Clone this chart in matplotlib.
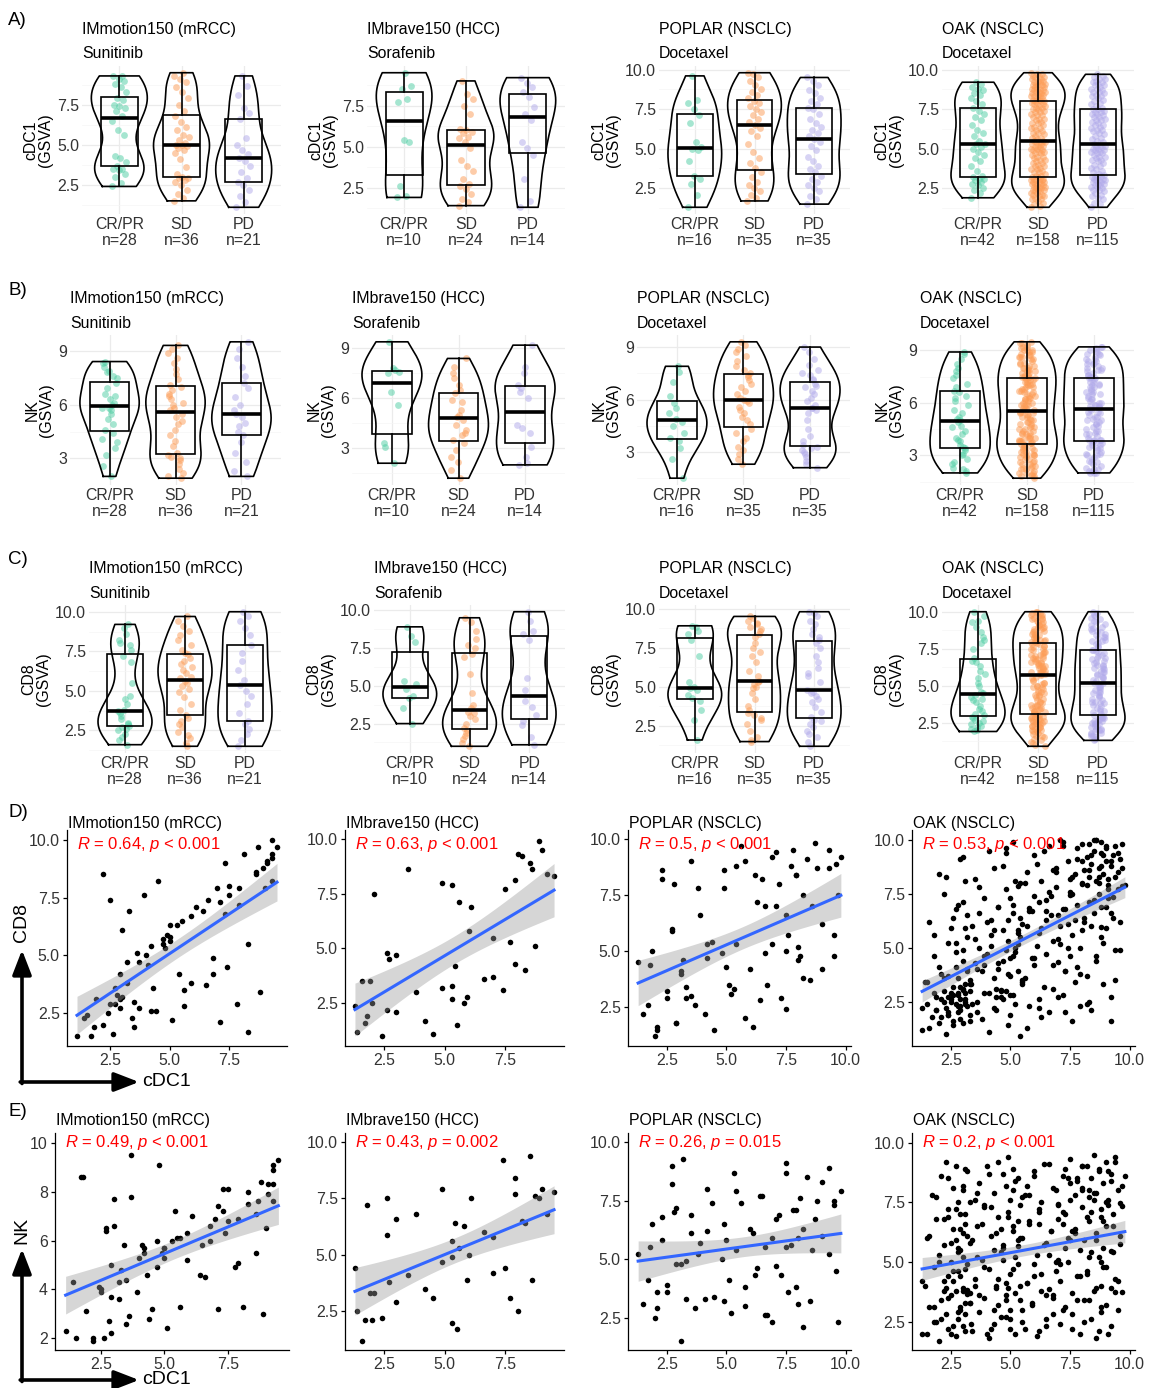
import numpy as np
import matplotlib
matplotlib.use('Agg')
import matplotlib.pyplot as plt
from matplotlib.patches import Rectangle
from matplotlib.ticker import MultipleLocator, FormatStrFormatter

plt.rcParams['font.family'] = ['Liberation Sans', 'DejaVu Sans']
plt.rcParams['font.size'] = 11.4
plt.rcParams['mathtext.fontset'] = 'custom'
plt.rcParams['mathtext.rm'] = 'Liberation Sans'
plt.rcParams['mathtext.it'] = 'Liberation Sans:italic'

W, H = 1151, 1388

# LABELS
studies = ['IMmotion150 (mRCC)', 'IMbrave150 (HCC)', 'POPLAR (NSCLC)', 'OAK (NSCLC)']
drugs = ['Sunitinib', 'Sorafenib', 'Docetaxel', 'Docetaxel']
groups = ['CR/PR', 'SD', 'PD']
cd8_r = ['0.64', '0.63', '0.5', '0.53']
cd8_p = ['< 0.001', '< 0.001', '< 0.001', '< 0.001']
nk_r = ['0.49', '0.43', '0.26', '0.2']
nk_p = ['< 0.001', '= 0.002', '= 0.015', '< 0.001']

# GSVA SCORES PER PATIENT, SPLIT BY RESPONSE (CR/PR, SD, PD) - SAME PATIENT ORDER IN EACH SIGNATURE
mrcc_cdc1 = [
    [2.4, 2.6, 3.0, 3.2, 3.4, 3.5, 3.5, 3.7, 3.9, 4.2, 4.3, 5.6, 5.9, 6.5, 6.8, 7.1, 7.3, 7.4, 7.5, 7.8, 7.9, 8.3, 8.6, 8.8, 9.0, 9.1, 9.3, 9.3],
    [1.5, 1.7, 1.9, 2.2, 2.5, 2.7, 2.8, 2.9, 2.9, 3.0, 3.2, 3.6, 4.1, 4.5, 4.7, 4.8, 4.9, 5.0, 5.0, 5.1, 5.3, 5.5, 5.6, 5.9, 6.1, 6.4, 6.8, 7.1, 7.5, 7.9, 8.3, 8.6, 8.9, 9.1, 9.3, 9.5],
    [1.1, 1.4, 1.8, 2.2, 2.5, 2.7, 2.9, 3.3, 3.7, 4.0, 4.2, 4.4, 4.7, 5.0, 5.4, 6.6, 7.0, 7.3, 8.1, 8.7, 9.3],
]
mrcc_cd8 = [
    [2.5, 1.6, 3.2, 4.7, 2.3, 1.9, 3.0, 2.7, 7.6, 2.6, 3.6, 2.8, 3.8, 3.7, 4.2, 2.1, 6.8, 4.5, 8.0, 2.9, 7.2, 5.5, 8.6, 3.4, 7.9, 9.0, 8.2, 9.2],
    [2.4, 1.5, 3.1, 2.0, 7.4, 2.9, 3.3, 2.7, 4.2, 6.1, 3.8, 5.1, 4.6, 8.2, 5.5, 5.3, 5.9, 5.6, 5.8, 2.2, 6.3, 6.5, 3.5, 6.7, 7.1, 6.9, 4.9, 7.3, 7.6, 7.9, 1.7, 8.5, 8.8, 9.1, 9.4, 9.7],
    [1.5, 2.3, 1.9, 8.5, 2.9, 3.6, 3.1, 6.9, 4.7, 5.0, 5.4, 2.6, 5.7, 6.3, 4.2, 7.4, 7.9, 9.0, 9.4, 9.7, 10.0],
]
mrcc_nk = [
    [4.1, 2.0, 6.6, 3.6, 5.8, 2.6, 4.4, 7.8, 3.9, 5.7, 4.6, 6.1, 5.2, 5.8, 6.0, 3.2, 7.2, 6.3, 8.1, 4.9, 6.9, 7.5, 5.5, 8.4, 6.5, 7.9, 8.3, 7.6],
    [2.0, 8.6, 3.1, 1.9, 4.0, 6.5, 2.7, 3.7, 2.2, 7.7, 4.3, 2.9, 5.8, 3.2, 4.9, 9.1, 5.5, 5.3, 5.7, 2.4, 6.0, 6.1, 3.3, 6.3, 7.0, 4.6, 6.6, 7.4, 6.8, 5.1, 8.0, 7.1, 3.0, 8.3, 8.9, 9.3],
    [2.3, 4.3, 8.6, 2.0, 3.9, 6.4, 5.0, 4.8, 9.5, 5.3, 5.5, 2.8, 6.0, 5.7, 7.2, 4.5, 6.9, 8.1, 3.3, 7.6, 9.1],
]

hcc_cdc1 = [
    [1.9, 2.0, 2.6, 5.3, 5.4, 7.7, 7.9, 8.5, 8.7, 9.5],
    [1.4, 1.6, 1.8, 2.1, 2.4, 2.6, 2.7, 3.0, 3.5, 3.8, 4.2, 4.9, 5.3, 5.5, 5.6, 5.8, 5.9, 6.0, 6.1, 7.0, 7.5, 7.9, 8.2, 9.0],
    [1.3, 1.7, 3.0, 4.5, 4.9, 5.3, 6.6, 7.0, 7.4, 8.0, 8.3, 8.6, 8.9, 9.2],
]
hcc_cd8 = [
    [3.5, 2.5, 4.8, 7.9, 4.2, 5.3, 4.3, 8.9, 5.1, 8.3],
    [1.2, 3.5, 1.9, 7.5, 1.0, 2.2, 4.5, 2.1, 8.6, 3.0, 1.7, 3.2, 3.3, 1.5, 7.1, 2.5, 2.8, 5.8, 6.9, 3.7, 7.7, 8.1, 9.2, 9.5],
    [2.4, 1.6, 4.7, 1.1, 8.0, 2.7, 3.6, 5.5, 3.1, 9.3, 4.0, 8.6, 9.9, 8.4],
]
hcc_nk = [
    [3.3, 2.1, 7.5, 5.6, 6.4, 3.1, 7.7, 9.4, 7.6, 7.8],
    [2.5, 1.2, 7.2, 3.3, 2.2, 5.9, 3.8, 2.9, 4.1, 6.8, 3.5, 4.7, 4.9, 1.7, 5.3, 6.3, 3.9, 5.0, 7.5, 5.8, 4.4, 8.4, 6.5, 7.9],
    [4.4, 2.1, 6.6, 3.1, 7.9, 2.0, 6.0, 4.2, 9.2, 2.5, 6.4, 3.9, 7.5, 6.8],
]

poplar_cdc1 = [
    [1.3, 2.1, 2.8, 3.1, 3.3, 4.2, 4.9, 5.0, 5.1, 5.4, 6.6, 7.1, 7.5, 7.9, 8.1, 9.6],
    [1.7, 1.9, 2.1, 2.3, 2.5, 2.7, 2.9, 3.2, 3.5, 3.8, 4.1, 4.4, 4.8, 5.3, 5.8, 6.1, 6.3, 6.5, 6.7, 6.9, 7.1, 7.3, 7.5, 7.7, 7.9, 8.0, 8.2, 8.4, 8.6, 8.8, 9.0, 9.3, 9.5, 9.7, 9.8],
    [1.5, 1.8, 2.0, 2.3, 2.5, 2.7, 2.9, 3.1, 3.3, 3.5, 3.7, 3.9, 4.2, 4.5, 4.9, 5.2, 5.4, 5.6, 5.8, 6.0, 6.2, 6.4, 6.6, 6.9, 7.2, 7.5, 7.6, 7.8, 8.0, 8.2, 8.5, 8.7, 9.0, 9.3, 9.5],
]
poplar_cd8 = [
    [4.5, 1.6, 8.0, 4.1, 2.9, 5.3, 8.6, 4.3, 3.5, 8.8, 4.9, 7.0, 5.0, 8.4, 4.8, 8.9],
    [2.6, 5.0, 1.5, 8.6, 3.2, 6.0, 1.8, 4.6, 3.0, 7.8, 2.2, 5.4,
     4.9, 3.3, 9.0, 1.6, 7.2, 8.2, 3.5, 5.3, 9.4, 2.9, 6.6, 8.8,
     8.4, 5.2, 3.8, 9.1, 7.0, 8.7, 4.2, 9.5, 5.7, 7.5, 9.2],
    [2.2, 4.4, 1.2, 8.2, 2.9, 5.9, 1.8, 4.0, 3.4, 9.0, 2.6, 6.6,
     4.7, 1.5, 7.8, 3.1, 5.3, 9.7, 2.0, 4.2, 8.4, 2.8, 7.0, 9.2,
     8.0, 2.4, 5.7, 9.5, 4.6, 7.5, 3.7, 9.8, 6.2, 8.7, 4.8],
]
poplar_nk = [
    [5.2, 3.6, 7.0, 1.5, 4.9, 6.2, 3.2, 5.8, 4.1, 7.9, 2.6, 4.7, 5.5, 3.8, 7.6, 4.5],
    [4.1, 6.5, 2.9, 5.8, 3.6, 8.2, 4.8, 9.3, 6.9, 5.2, 3.3, 7.4,
     5.0, 8.7, 3.8, 6.1, 4.6, 7.7, 2.6, 5.9, 6.7, 4.3, 9.1, 5.6,
     7.1, 3.1, 6.3, 8.5, 5.4, 7.5, 6.0, 8.9, 7.3, 2.3, 7.9],
    [3.1, 5.5, 2.5, 6.8, 3.9, 9.0, 7.2, 4.8, 3.3, 6.1, 2.9, 5.7,
     8.0, 3.4, 6.5, 2.7, 5.4, 7.4, 3.0, 6.3, 4.3, 7.7, 5.5, 2.3,
     6.9, 8.7, 3.6, 7.1, 5.9, 2.1, 3.2, 6.7, 8.3, 5.2, 7.5],
]

oak_cdc1 = [
    [1.9, 2.2, 2.4, 2.5, 2.7, 2.8, 2.9, 3.0, 3.1, 3.1, 3.2, 3.3, 3.6, 3.9, 4.2, 4.4, 4.6, 4.8, 5.0, 5.1, 5.3,
     5.3, 5.5, 5.8, 6.0, 6.2, 6.5, 6.8, 7.0, 7.2, 7.4, 7.6, 7.8, 8.0, 8.2, 8.4, 8.5, 8.7, 8.8, 8.9, 9.1, 9.2],
    [1.3, 1.4, 1.5, 1.6, 1.7, 1.8, 1.8, 1.9, 2.0, 2.0, 2.1, 2.1, 2.2, 2.2, 2.3, 2.3, 2.4, 2.4, 2.4, 2.5,
     2.5, 2.6, 2.6, 2.6, 2.7, 2.7, 2.8, 2.8, 2.8, 2.9, 2.9, 2.9, 3.0, 3.0, 3.0, 3.1, 3.1, 3.1, 3.2, 3.2,
     3.3, 3.3, 3.4, 3.5, 3.5, 3.6, 3.7, 3.7, 3.8, 3.9, 3.9, 4.0, 4.1, 4.1, 4.2, 4.3, 4.3, 4.4, 4.5, 4.5,
     4.6, 4.7, 4.7, 4.8, 4.8, 4.9, 4.9, 5.0, 5.0, 5.1, 5.1, 5.2, 5.2, 5.3, 5.3, 5.4, 5.4, 5.4, 5.5,
     5.5, 5.6, 5.7, 5.7, 5.8, 5.9, 6.0, 6.0, 6.1, 6.2, 6.3, 6.3, 6.4, 6.5, 6.6, 6.6, 6.7, 6.8, 6.9, 6.9,
     7.0, 7.1, 7.1, 7.2, 7.3, 7.3, 7.4, 7.5, 7.5, 7.6, 7.6, 7.7, 7.7, 7.8, 7.8, 7.9, 7.9, 8.0, 8.0,
     8.0, 8.1, 8.1, 8.2, 8.2, 8.3, 8.3, 8.3, 8.4, 8.4, 8.5, 8.5, 8.6, 8.6, 8.6, 8.7, 8.7, 8.8, 8.8, 8.8,
     8.9, 8.9, 9.0, 9.0, 9.0, 9.1, 9.1, 9.2, 9.2, 9.3, 9.3, 9.4, 9.4, 9.5, 9.5, 9.6, 9.6, 9.7, 9.7, 9.8],
    [1.3, 1.5, 1.6, 1.8, 1.9, 2.0, 2.1, 2.2, 2.3, 2.4, 2.4, 2.5, 2.6, 2.6, 2.7, 2.7, 2.8, 2.8, 2.9, 2.9,
     3.0, 3.0, 3.0, 3.1, 3.1, 3.2, 3.2, 3.3, 3.3,
     3.35, 3.4, 3.5, 3.6, 3.7, 3.8, 3.9, 4.0, 4.1, 4.2, 4.3, 4.3, 4.4, 4.5, 4.5, 4.6, 4.7, 4.7, 4.8, 4.8,
     4.9, 4.9, 5.0, 5.0, 5.1, 5.1, 5.2, 5.2,
     5.3,
     5.4, 5.5, 5.6, 5.7, 5.8, 5.9, 6.0, 6.1, 6.2, 6.2, 6.3, 6.4, 6.5, 6.5, 6.6, 6.7, 6.8, 6.8, 6.9, 7.0,
     7.0, 7.1, 7.2, 7.2, 7.3, 7.3, 7.4, 7.5,
     7.5, 7.6, 7.7, 7.8, 7.9, 8.0, 8.1, 8.2, 8.3, 8.3, 8.4, 8.5, 8.6, 8.6, 8.7, 8.8, 8.8, 8.9, 9.0, 9.0,
     9.1, 9.2, 9.2, 9.3, 9.4, 9.4, 9.5, 9.6, 9.7],
]
oak_cd8 = [
    [2.1, 3.6, 1.9, 2.6, 5.2, 2.9, 2.3, 3.1, 8.1, 2.5, 4.0,
     3.3, 2.0, 4.2, 6.3, 2.7, 3.0, 9.4, 2.8, 4.6, 3.9,
     5.8, 3.4, 6.85, 4.5, 2.2, 6.7, 8.6, 4.35, 9.7, 5.0,
     7.5, 4.1, 9.0, 2.4, 6.0, 10.0, 8.3, 5.5, 9.3, 7.9, 6.6],
    [1.2, 3.4, 2.4, 6.2, 1.8, 2.9, 4.6, 2.1, 1.5, 8.4, 2.6, 3.8, 3.0, 7.5, 2.2, 1.0, 5.2, 2.7, 1.9, 5.9,
     2.5, 3.2, 2.8, 1.4, 4.1, 6.8, 2.3, 2.0, 3.6, 2.6, 9.1, 1.7, 4.9, 3.05, 7.1, 2.4, 3.3, 2.9, 6.5, 5.5,
     3.5, 1.6, 6.0, 4.3, 8.2, 2.5, 5.0, 6.6, 3.9, 2.9, 7.3, 4.7, 1.1, 9.5, 5.6, 5.8, 2.2, 3.1, 6.9, 4.0,
     2.7, 8.8, 4.4, 7.7, 3.0, 5.3, 6.3, 1.9, 3.7, 9.9, 7.0, 4.8, 2.4, 7.85, 5.7, 8.0, 0.9, 6.4, 3.3,
     6.1, 3.6, 8.5, 1.3, 6.7, 4.5, 9.3, 7.4, 5.1, 2.6, 5.9, 8.1, 3.2, 7.2, 9.7, 2.0, 6.5, 4.2, 8.7, 7.8,
     5.4, 6.0, 10.0, 2.8, 3.9, 6.8, 9.0, 4.6, 7.6, 1.6, 8.3, 6.3, 3.4, 9.6, 7.0, 5.0, 2.3, 5.8, 7.95,
     8.0, 6.2, 8.6, 9.2, 3.7, 9.8, 7.1, 8.3, 8.9, 2.1, 9.5, 6.6, 10.0, 8.1, 4.4, 8.7, 7.5, 9.4, 9.9, 5.95,
     8.4, 5.2, 9.0, 6.9, 9.6, 8.2, 7.3, 2.7, 8.8, 9.3, 6.4, 3.5, 9.7, 8.5, 7.7, 9.1, 4.9, 9.8, 7.88, 7.92],
    [2.2, 3.4, 1.3, 5.6, 2.7, 4.1, 1.8, 2.5, 8.3, 2.0, 3.7, 2.9, 6.4, 1.6, 4.8, 2.4, 2.8, 7.0, 3.2, 2.1,
     1.5, 9.2, 4.4, 2.6, 5.9, 2.3, 3.9, 2.98, 1.9,
     3.3, 2.4, 5.4, 4.0, 7.8, 1.7, 4.6, 6.2, 2.9, 5.1, 8.7, 3.6, 2.1, 6.9, 4.3, 3.02, 2.6, 5.8, 9.6, 4.9,
     1.4, 3.8, 7.3, 4.5, 2.8, 6.6, 8.1, 5.0,
     5.18,
     5.5, 3.5, 8.0, 6.0, 2.3, 6.7, 4.2, 8.9, 7.1, 5.7, 1.8, 9.5, 4.7, 6.3, 7.6, 7.4, 3.1, 5.3, 8.5, 2.7,
     6.5, 5.15, 9.9, 6.8, 2.0, 3.9, 6.1, 8.2,
     7.42, 5.6, 8.4, 9.1, 3.8, 9.8, 6.4, 7.9, 2.5, 8.6, 9.3, 7.2, 4.6, 10.0, 8.0, 6.9, 8.8, 3.3, 9.7, 5.9,
     7.7, 1.6, 9.0, 7.35, 8.3, 4.9, 9.4, 6.2, 8.7],
]
oak_nk = [
    [2.5, 4.2, 6.9, 2.0, 3.8, 5.6, 3.1, 8.2, 2.8, 4.7, 6.1,
     3.3, 5.2, 7.4, 2.2, 4.0, 6.4, 3.6, 2.6, 8.9, 4.9,
     5.9, 3.0, 7.8, 4.4, 6.6, 2.3, 3.5, 5.1, 7.1, 8.5,
     6.3, 3.4, 8.0, 4.6, 5.4, 7.6, 2.1, 5.0, 6.7, 8.8, 3.9],
    [2.0, 4.0, 6.0, 3.1, 7.8, 4.8, 2.5, 6.8, 1.7, 5.3, 8.6, 3.4, 5.7, 3.8, 2.8, 9.2, 4.4, 7.2, 2.2, 5.0,
     3.6, 6.4, 8.1, 4.2, 1.9, 5.9, 2.6, 4.6, 7.5, 3.0, 7.0, 5.5, 2.3, 6.2, 3.9, 8.9, 3.3, 6.6, 4.9, 3.65,
     3.7, 5.8, 2.1, 7.6, 4.3, 6.5, 2.9, 8.3, 5.1, 3.5, 7.3, 9.0, 1.8, 4.7, 6.1, 2.4, 7.9, 3.9, 6.9, 3.2,
     5.4, 8.7, 5.6, 2.7, 4.1, 9.4, 7.1, 3.0, 4.5, 6.3, 8.0, 2.0, 5.2, 6.7, 8.5, 3.4, 4.0, 7.4, 7.7,
     6.0, 2.2, 8.2, 4.1, 6.6, 3.3, 4.9, 8.8, 1.9, 7.2, 3.8, 7.5, 5.7, 2.6, 5.3, 9.1, 6.3, 3.6, 4.6, 8.0,
     6.8, 2.4, 4.2, 8.6, 7.0, 3.1, 5.0, 9.3, 5.9, 3.7, 2.8, 7.8, 6.4, 4.4, 8.4, 2.0, 5.5, 7.3, 9.0,
     8.1, 5.9, 2.5, 9.0, 4.5, 6.7, 7.7, 3.4, 8.5, 7.1, 3.8, 9.48, 6.2, 1.8, 7.9, 5.2, 8.9, 6.9, 2.9, 4.0,
     8.3, 5.6, 9.2, 3.2, 4.8, 7.6, 7.4, 8.7, 2.3, 5.4, 6.5, 9.4, 4.3, 8.0, 3.0, 6.1, 7.45, 3.75, 7.35, 8.6],
    [4.2, 2.0, 6.1, 3.1, 7.7, 5.0, 2.6, 6.8, 3.9, 8.5, 3.5, 5.8, 4.6, 2.3, 9.0, 7.2, 5.4, 2.9, 6.4, 4.4,
     3.78, 8.0, 5.2, 2.1, 7.0, 3.82, 8.8, 3.3, 7.5,
     2.4, 5.9, 4.0, 7.9, 3.6, 6.6, 4.8, 2.0, 8.7, 7.3, 5.5, 3.0, 6.2, 9.19, 4.3, 2.7, 5.7, 5.1, 8.2, 3.4,
     6.9, 3.9, 2.2, 7.6, 4.7, 6.5, 3.7, 8.4,
     5.67,
     6.0, 2.5, 7.8, 4.1, 6.7, 3.2, 8.6, 5.3, 7.1, 2.1, 4.5, 9.1, 5.8, 3.6, 3.85, 6.3, 8.1, 2.8, 5.0, 7.4,
     7.44, 4.9, 6.6, 3.0, 8.9, 5.6, 6.0, 8.3,
     7.6, 2.2, 6.2, 8.5, 4.4, 9.0, 3.4, 6.9, 8.0, 5.2, 2.6, 7.9, 5.9, 3.9, 8.8, 7.2, 3.1, 4.8, 7.5, 6.5,
     2.0, 8.4, 5.45, 7.0, 9.19, 3.75, 4.2, 5.75, 8.2],
]

cdc1 = [mrcc_cdc1, hcc_cdc1, poplar_cdc1, oak_cdc1]
cd8 = [mrcc_cd8, hcc_cd8, poplar_cd8, oak_cd8]
nk = [mrcc_nk, hcc_nk, poplar_nk, oak_nk]

colors = ['#4ccda2', '#fc9b54', '#b0a9ea']

fig = plt.figure(figsize=(W / 100, H / 100), dpi=100)
ov = fig.add_axes([0, 0, 1, 1])
ov.set_xlim(0, W)
ov.set_ylim(H, 0)
ov.axis('off')
ov.set_zorder(10)


def px_axes(l, t, r, b):
    return fig.add_axes([l / W, 1 - b / H, (r - l) / W, (b - t) / H])


def kde(v, grid):
    n = len(v)
    iqr = np.percentile(v, 75) - np.percentile(v, 25)
    bw = 0.9 * min(v.std(ddof=1), iqr / 1.34) * n ** -0.2
    return np.exp(-0.5 * ((grid[:, None] - v[None, :]) / bw) ** 2).sum(1)


def violin_panel(ax, data, ylab, step, fmt):
    allv = np.concatenate([np.asarray(v, float) for v in data])
    pad = 0.05 * (allv.max() - allv.min())
    ax.set_ylim(allv.min() - pad, allv.max() + pad)
    ax.set_xlim(0.4, 3.6)
    for i, v in enumerate(data):
        v = np.asarray(v, float)
        x0 = i + 1
        jit = ((np.arange(len(v)) * 0.618034) % 1.0 - 0.5) * 0.24
        ax.scatter(x0 + jit, v, s=24, color=colors[i], alpha=0.5, linewidths=0, zorder=2)
        yy = np.linspace(v.min(), v.max(), 256)
        d = kde(v, yy)
        d = 0.45 * d / d.max()
        ax.plot(np.r_[x0 - d, (x0 + d)[::-1], x0 - d[0]], np.r_[yy, yy[::-1], yy[0]],
                color='black', lw=1.2, zorder=3)
        q1, med, q3 = np.percentile(v, [25, 50, 75])
        iqr = q3 - q1
        lo_w = v[v >= q1 - 1.5 * iqr].min()
        hi_w = v[v <= q3 + 1.5 * iqr].max()
        ax.add_patch(Rectangle((x0 - 0.3, q1), 0.6, q3 - q1, fill=False, ec='black', lw=1.2, zorder=4))
        ax.plot([x0 - 0.3, x0 + 0.3], [med, med], color='black', lw=2.6, solid_capstyle='butt', zorder=5)
        ax.plot([x0, x0], [q3, hi_w], color='black', lw=1.2, zorder=4)
        ax.plot([x0, x0], [q1, lo_w], color='black', lw=1.2, zorder=4)
    ax.set_xticks([1, 2, 3])
    ax.set_xticklabels([f'{g}\nn={len(v)}' for g, v in zip(groups, data)], linespacing=1.1)
    ax.yaxis.set_major_locator(MultipleLocator(step))
    ax.yaxis.set_minor_locator(MultipleLocator(step / 2))
    ax.yaxis.set_major_formatter(FormatStrFormatter(fmt))
    ax.tick_params(which='both', length=0, pad=2, labelcolor='#333333')
    ax.grid(True, which='major', color='#ebebeb', lw=0.9)
    ax.grid(True, which='minor', axis='y', color='#f5f5f5', lw=0.5)
    ax.set_axisbelow(True)
    for s in ax.spines.values():
        s.set_visible(False)
    ax.set_ylabel(f'{ylab}\n(GSVA)', labelpad=3, linespacing=0.95)


def scatter_panel(ax, x, y, ystep, yfmt):
    x = np.asarray(x, float)
    y = np.asarray(y, float)
    ax.scatter(x, y, s=16, color='black', linewidths=0, zorder=3)
    b, a = np.polyfit(x, y, 1)
    xx = np.linspace(x.min(), x.max(), 80)
    n = len(x)
    df = n - 2
    s = np.sqrt(((y - a - b * x) ** 2).sum() / df)
    se = s * np.sqrt(1 / n + (xx - x.mean()) ** 2 / ((x - x.mean()) ** 2).sum())
    z = 1.959964
    t = z + (z ** 3 + z) / (4 * df) + (5 * z ** 5 + 16 * z ** 3 + 3 * z) / (96 * df ** 2)
    fit = a + b * xx
    ax.fill_between(xx, fit - t * se, fit + t * se, color='#999999', alpha=0.4, lw=0, zorder=4)
    ax.plot(xx, fit, color='#3366ff', lw=2.2, zorder=5)
    xp = 0.05 * (x.max() - x.min())
    yp = 0.05 * (y.max() - y.min())
    ax.set_xlim(x.min() - xp, x.max() + xp)
    ax.set_ylim(y.min() - yp, max(y.max() + yp, 10.4))
    ax.xaxis.set_major_locator(MultipleLocator(2.5))
    ax.xaxis.set_major_formatter(FormatStrFormatter('%.1f'))
    ax.yaxis.set_major_locator(MultipleLocator(ystep))
    ax.yaxis.set_major_formatter(FormatStrFormatter(yfmt))
    for side in ['top', 'right']:
        ax.spines[side].set_visible(False)
    for side in ['left', 'bottom']:
        ax.spines[side].set_linewidth(0.9)
    ax.tick_params(direction='out', length=3, width=0.9, pad=2.2, labelcolor='#333333')


# ROWS A-C: VIOLINS
vrows = [(cdc1, 'cDC1', 2.5, '%.1f'), (nk, 'NK', 3, '%d'), (cd8, 'CD8', 2.5, '%.1f')]
v_top = [66, 335, 605]
v_bot = [214, 485, 753]
v_left = [[82, 367, 659, 942], [70, 352, 637, 920], [89, 374, 659, 942]]
v_right = [281, 565, 850, 1134]
t_y = [29, 298, 568]
s_y = [53, 323, 593]
let_y = [20, 290, 559]

for r, (sig, lab, step, fmt) in enumerate(vrows):
    ov.text(8, let_y[r], 'ABC'[r] + ')', fontsize=13.5, va='center', ha='left')
    for c in range(4):
        ax = px_axes(v_left[r][c], v_top[r], v_right[c], v_bot[r])
        violin_panel(ax, sig[c], lab, step, fmt)
        ov.text(v_left[r][c], t_y[r], studies[c], va='center', ha='left')
        ov.text(v_left[r][c], s_y[r], drugs[c], va='center', ha='left')

# ROWS D-E: SCATTER VS cDC1
srows = [(cd8, cd8_r, cd8_p, 'CD8'), (nk, nk_r, nk_p, 'NK')]
s_top = [830, 1133]
s_bot = [1046, 1350]
s_left = [[67, 345, 628, 912], [55, 345, 628, 912]]
s_right = [[287, 564, 851, 1135], [289, 564, 851, 1135]]
st_y = [823, 1121]
sr_y = [844, 1142]
sl_y = [812, 1111]

for r, (sig, rv, pv, lab) in enumerate(srows):
    ov.text(8, sl_y[r], 'DE'[r] + ')', fontsize=13.5, va='center', ha='left')
    for c in range(4):
        ax = px_axes(s_left[r][c], s_top[r], s_right[r][c], s_bot[r])
        x = np.concatenate(cdc1[c])
        y = np.concatenate(sig[c])
        if r == 1 and c == 0:
            scatter_panel(ax, x, y, 2, '%d')
        else:
            scatter_panel(ax, x, y, 2.5, '%.1f')
        ov.text(s_left[r][c] + 1, st_y[r], studies[c], va='center', ha='left')
        ov.text(s_left[r][c] + 10, sr_y[r], rf'$\mathit{{R}}$ = {rv[c]}, $\mathit{{p}}$ {pv[c]}',
                color='red', fontsize=12, va='center', ha='left')

# AXIS ARROWS
arrow = dict(arrowstyle='-|>,head_length=1.5,head_width=0.58', lw=2.6, color='black',
             shrinkA=0, shrinkB=0, mutation_scale=10)
for yb, yt, lab, ly in [(1082, 950, 'CD8', 922), (1380, 1249, 'NK', 1230)]:
    ov.annotate('', xy=(22, yt), xytext=(22, yb + 1.5), arrowprops=arrow)
    ov.annotate('', xy=(139, yb), xytext=(20.2, yb), arrowprops=arrow)
    ov.text(22, ly, lab, rotation=90, ha='center', va='center', fontsize=14)
    ov.text(142, yb, 'cDC1', ha='left', va='center', fontsize=14)

fig.savefig('out.png', dpi=100)
